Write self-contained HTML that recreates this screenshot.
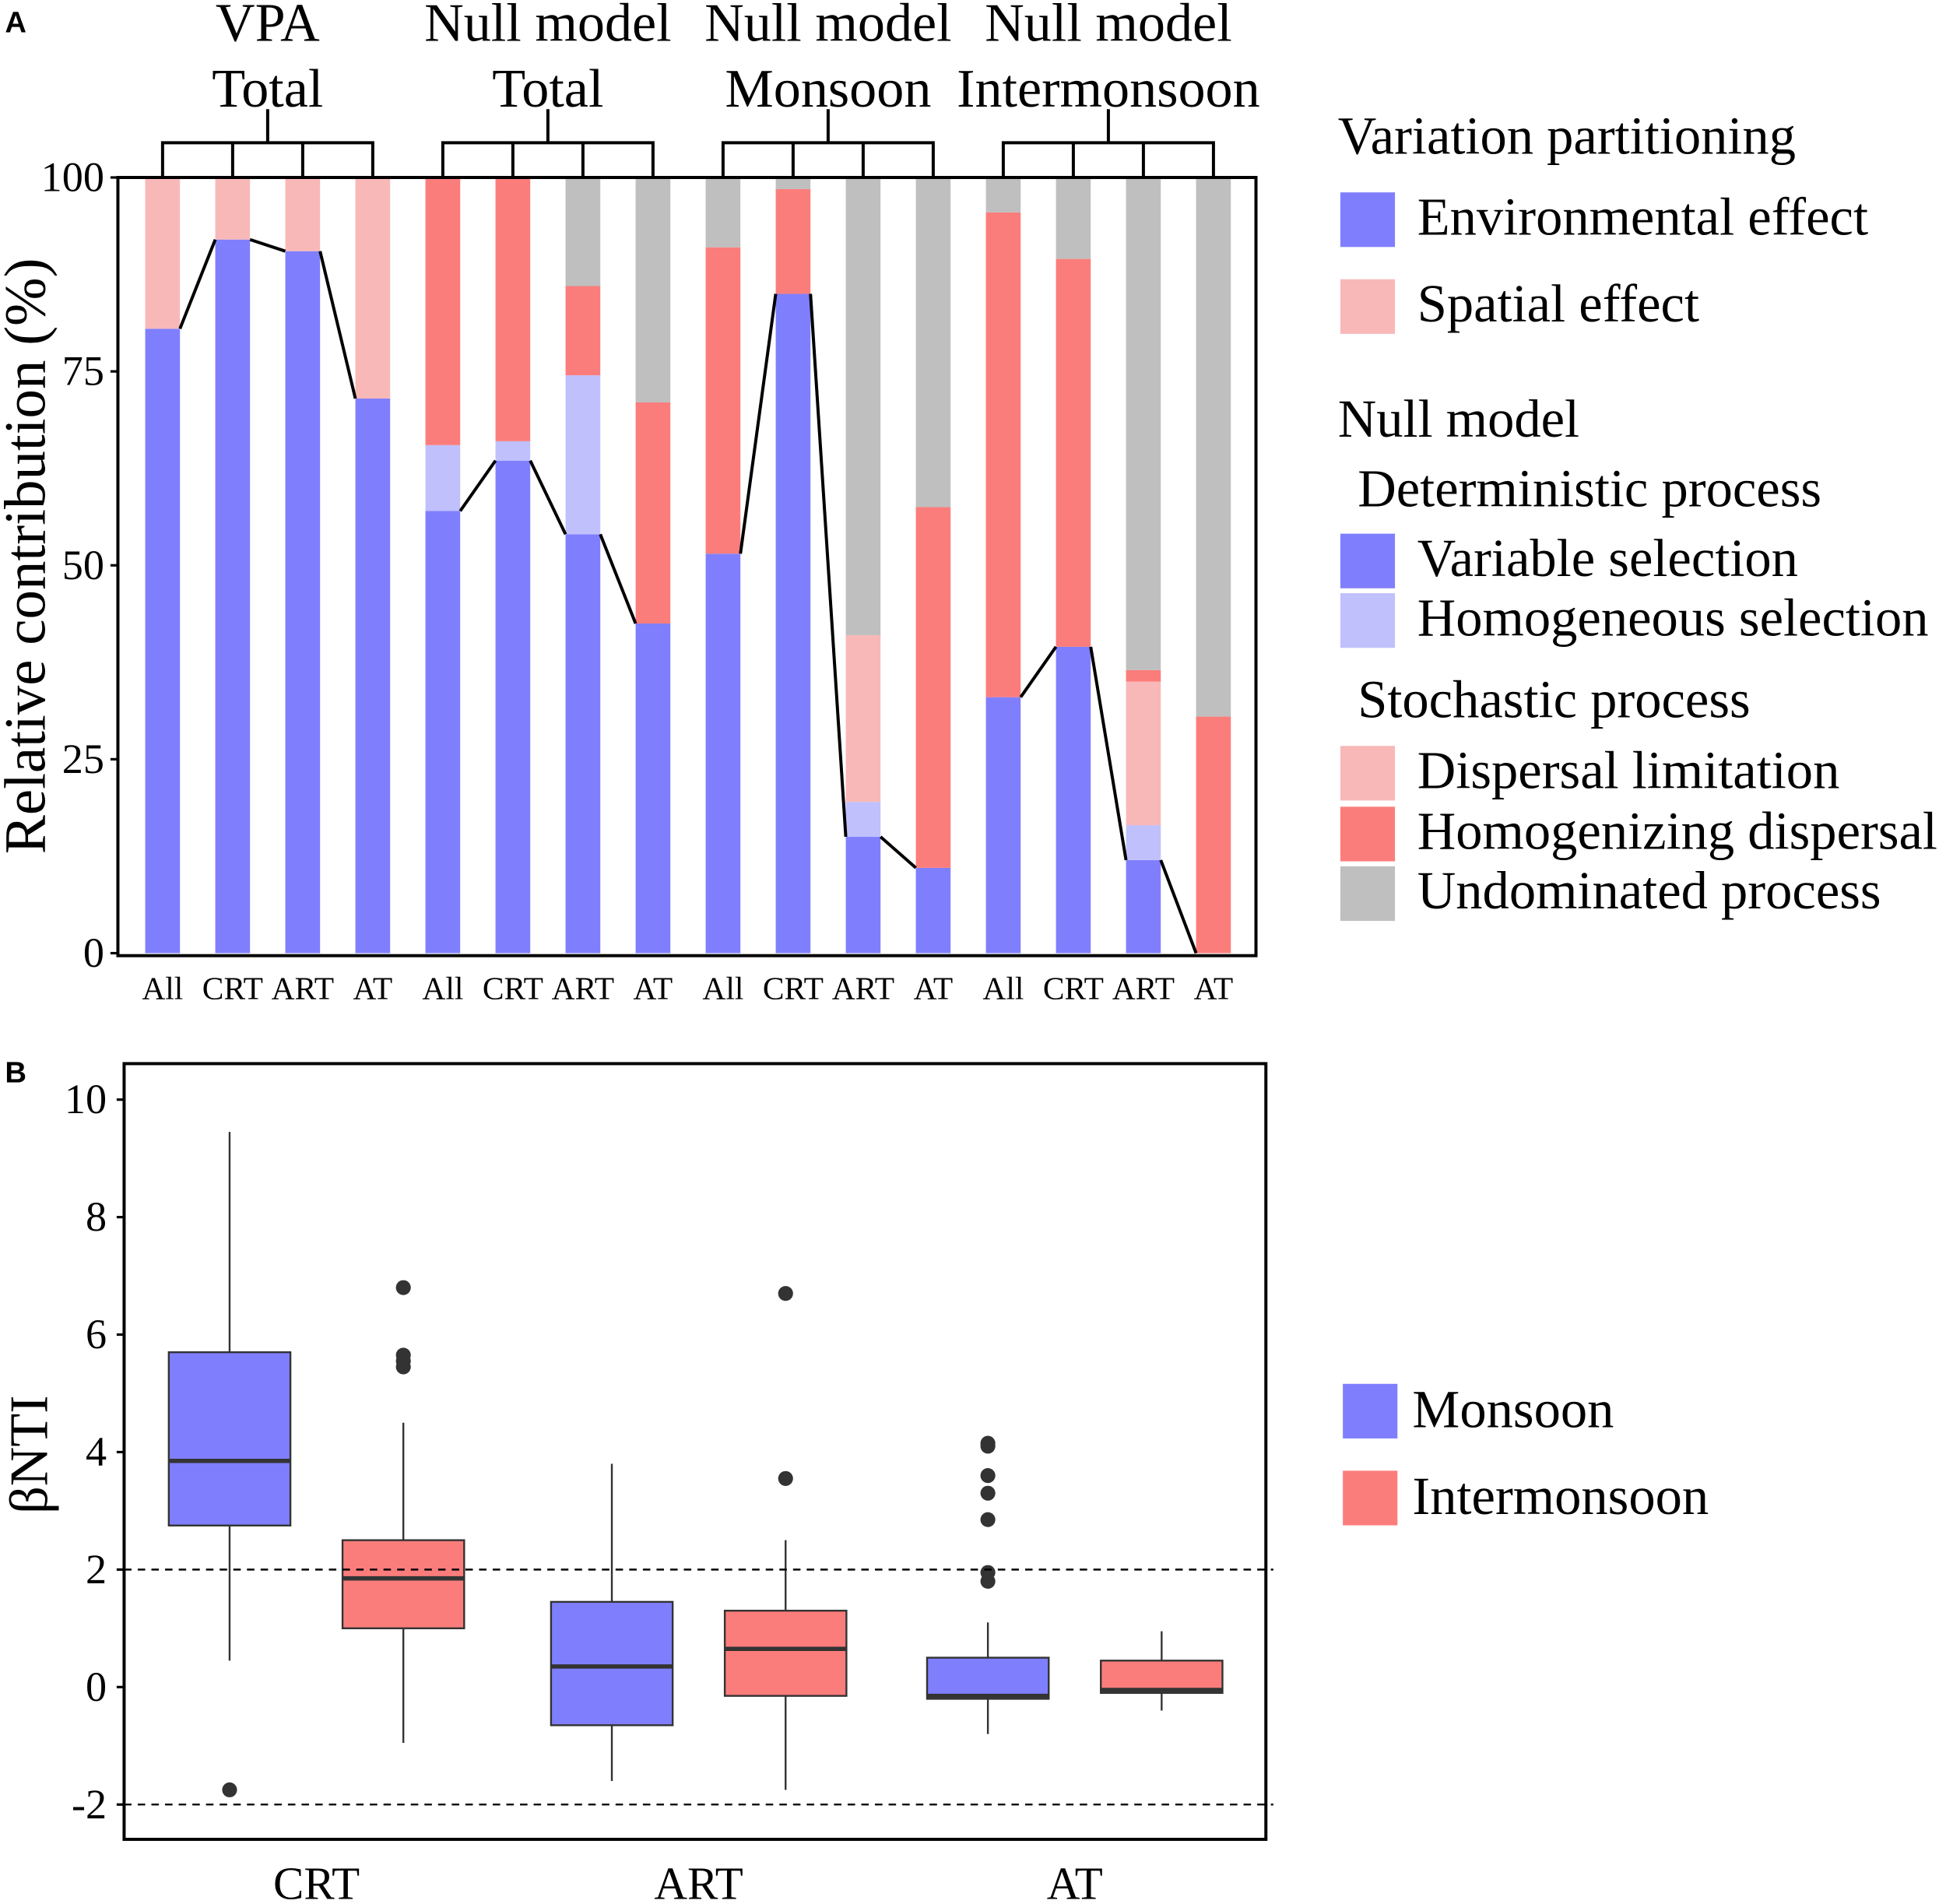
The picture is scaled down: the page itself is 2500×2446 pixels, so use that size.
<!DOCTYPE html>
<html><head><meta charset="utf-8"><style>
html,body{margin:0;padding:0;background:#fff}
svg{display:block}
text{font-family:"Liberation Serif",serif;fill:#000}
</style></head><body>
<svg id="chart" width="2500" height="2446" viewBox="0 0 1568 1534.1" preserveAspectRatio="none" xmlns="http://www.w3.org/2000/svg">
<text x="4" y="26" style="font-family:'Liberation Sans',sans-serif;font-weight:bold;font-size:24px">A</text>
<text x="4" y="872" style="font-family:'Liberation Sans',sans-serif;font-weight:bold;font-size:24px">B</text>
<g id="pa"></g>
<g id="pb"></g>
<g font-size="43">
<text x="1078" y="124">Variation partitioning</text>
<rect x="1080" y="155" width="44" height="44" fill="#7f7ffd"/>
<text x="1142" y="189">Environmental effect</text>
<rect x="1080" y="225" width="44" height="44" fill="#f9b8b8"/>
<text x="1142" y="259">Spatial effect</text>
<text x="1078" y="352">Null model</text>
<text x="1094" y="408">Deterministic process</text>
<rect x="1080" y="430" width="44" height="44" fill="#7f7ffd"/>
<text x="1142" y="464">Variable selection</text>
<rect x="1080" y="478" width="44" height="44" fill="#c0c0fd"/>
<text x="1142" y="512">Homogeneous selection</text>
<text x="1094" y="578">Stochastic process</text>
<rect x="1080" y="601" width="44" height="44" fill="#f9b8b8"/>
<text x="1142" y="635">Dispersal limitation</text>
<rect x="1080" y="650" width="44" height="44" fill="#fb7d7b"/>
<text x="1142" y="684">Homogenizing dispersal</text>
<rect x="1080" y="698" width="44" height="44" fill="#bfbfbf"/>
<text x="1142" y="732">Undominated process</text>
</g>
<g font-size="43">
<rect x="1082" y="1115" width="44" height="44" fill="#7f7ffd"/>
<text x="1138" y="1150">Monsoon</text>
<rect x="1082" y="1185" width="44" height="44" fill="#fb7d7b"/>
<text x="1138" y="1220">Intermonsoon</text>
</g>
</svg>
<script>
// ---- Panel A data ----
const barLabels=["All","CRT","ART","AT","All","CRT","ART","AT","All","CRT","ART","AT","All","CRT","ART","AT"];
const groupTitles1=["VPA","Null model","Null model","Null model"];
const groupTitles2=["Total","Total","Monsoon","Intermonsoon"];
const envSel=[80.5,92,90.5,71.5,57,63.5,54,42.5,51.5,85,15,11,33,39.5,12,0];
const homSel=[0,0,0,0,8.5,2.5,20.5,0,0,0,4.5,0,0,0,4.5,0];
const dispLim=[19.5,8,9.5,28.5,0,0,0,0,0,0,21.5,0,0,0,18.5,0];
const homDisp=[0,0,0,0,34.5,34,11.5,28.5,39.5,13.5,0,46.5,62.5,50,1.5,30.5];
const undom=[0,0,0,0,0,0,14,29,9,1.5,59,42.5,4.5,10.5,63.5,69.5];
const yTicksA=[0,25,50,75,100];
// ---- Panel B data ----
const sites=["CRT","ART","AT"];
const seasons=["Monsoon","Intermonsoon"];
const bLo=[0.45,-0.95,-1.6,-1.75,-0.8,-0.4];
const bQ1=[2.75,1.0,-0.65,-0.15,-0.2,-0.1];
const bMed=[3.85,1.85,0.35,0.65,-0.15,-0.05];
const bQ3=[5.7,2.5,1.45,1.3,0.5,0.45];
const bHi=[9.45,4.5,3.8,2.5,1.1,0.95];
const bOut=[[-1.75],[5.45,5.55,5.65,6.8],[],[3.55,6.7],[1.8,1.95,2.85,3.3,3.6,4.1,4.15],[]];
const yTicksB=[-2,0,2,4,6,8,10];
const thresholds=[2,-2];

const NS="http://www.w3.org/2000/svg";
function mk(p,tag,at,txt){const e=document.createElementNS(NS,tag);for(const k in at)e.setAttribute(k,at[k]);if(txt!==undefined)e.textContent=txt;p.appendChild(e);return e;}

// Panel A
const pa=document.getElementById('pa');
const ax0=95,ax1=1012,ayT=143,ayB=770;
const yA=v=>768-v*6.25;
const xA=i=>131+i*56.45;
const bw=28;
const colors=["#7f7ffd","#c0c0fd","#f9b8b8","#fb7d7b","#bfbfbf"];
const segNames=["variable-selection","homogeneous-selection","dispersal-limitation","homogenizing-dispersal","undominated"];
const series=[envSel,homSel,dispLim,homDisp,undom];
for(let i=0;i<barLabels.length;i++){
  let acc=0;
  for(let s=0;s<5;s++){
    const v=series[s][i]; if(v<=0)continue;
    const r=mk(pa,'rect',{x:xA(i)-bw/2,y:yA(acc+v),width:bw,height:yA(acc)-yA(acc+v),fill:colors[s]});
    
    
    acc+=v;
  }
  const t=mk(pa,'text',{x:xA(i),y:805,'font-size':26,'text-anchor':'middle'},barLabels[i]);
  
  
}
for(let g=0;g<4;g++){
  for(let k=0;k<3;k++){
    const i=g*4+k;
    const l=mk(pa,'line',{x1:xA(i)+bw/2,y1:yA(envSel[i]),x2:xA(i+1)-bw/2,y2:yA(envSel[i+1]),stroke:'#000','stroke-width':2.5});
    
    
  }
  const a=xA(g*4),b=xA(g*4+3),c=(a+b)/2;
  const br=mk(pa,'path',{d:`M${a},143V115H${b}V143M${xA(g*4+1)},115V143M${xA(g*4+2)},115V143M${c},115V88`,fill:'none',stroke:'#000','stroke-width':2.5});
  
  
  const t1=mk(pa,'text',{x:c,y:33,'font-size':44,'text-anchor':'middle'},groupTitles1[g]);
  
  
  const t2=mk(pa,'text',{x:c,y:86,'font-size':44,'text-anchor':'middle'},groupTitles2[g]);
  
  
}
const fa=mk(pa,'rect',{x:ax0,y:ayT,width:ax1-ax0,height:ayB-ayT,fill:'none',stroke:'#000','stroke-width':2.5});


yTicksA.forEach(v=>{
  mk(pa,'line',{x1:ax0-6,x2:ax0,y1:yA(v),y2:yA(v),stroke:'#000','stroke-width':2});
  const t=mk(pa,'text',{x:84,y:yA(v)+11,'font-size':34,'text-anchor':'end'},String(v));
  
  
});
const yt=mk(pa,'text',{x:0,y:0,'font-size':47,'text-anchor':'middle',transform:'translate(36,448) rotate(-90)'},'Relative contribution (%)');



// Panel B
const pb=document.getElementById('pb');
const bx0=100,bx1=1020,byT=857,byB=1482;
const yB=v=>1359.3-v*47.33;
const siteX=[255,563,866];
const bbw=98;
for(let s=0;s<3;s++){
  for(let k=0;k<2;k++){
    const i=s*2+k, cx=siteX[s]+(k?70:-70);
    const w=mk(pb,'line',{x1:cx,x2:cx,y1:yB(bHi[i]),y2:yB(bLo[i]),stroke:'#333','stroke-width':1.5});
    
    
    const r=mk(pb,'rect',{x:cx-bbw/2,y:yB(bQ3[i]),width:bbw,height:yB(bQ1[i])-yB(bQ3[i]),fill:k?'#fb7d7b':'#7f7ffd',stroke:'#333','stroke-width':1.5});
    
    
    const m=mk(pb,'line',{x1:cx-bbw/2,x2:cx+bbw/2,y1:yB(bMed[i]),y2:yB(bMed[i]),stroke:'#333','stroke-width':3.5});
    
    
    bOut[i].forEach(o=>{
      const c=mk(pb,'circle',{cx:cx,cy:yB(o),r:6,fill:'#333'});
      
      
    });
  }
  const t=mk(pb,'text',{x:siteX[s],y:1530,'font-size':37,'text-anchor':'middle'},sites[s]);
  
  
}
thresholds.forEach(v=>{
  const l=mk(pb,'line',{x1:bx0,x2:1026,y1:yB(v),y2:yB(v),stroke:'#000','stroke-width':1.5,'stroke-dasharray':'6,5'});
  
  
});
const fb=mk(pb,'rect',{x:bx0,y:byT,width:bx1-bx0,height:byB-byT,fill:'none',stroke:'#000','stroke-width':2.5});


yTicksB.forEach(v=>{
  mk(pb,'line',{x1:bx0-6,x2:bx0,y1:yB(v),y2:yB(v),stroke:'#000','stroke-width':2});
  const t=mk(pb,'text',{x:86,y:yB(v)+11,'font-size':34,'text-anchor':'end'},String(v));
  
  
});
const ytb=mk(pb,'text',{x:0,y:0,'font-size':44,'text-anchor':'middle',transform:'translate(38,1172) rotate(-90)'},'βNTI');


</script>
</body></html>
